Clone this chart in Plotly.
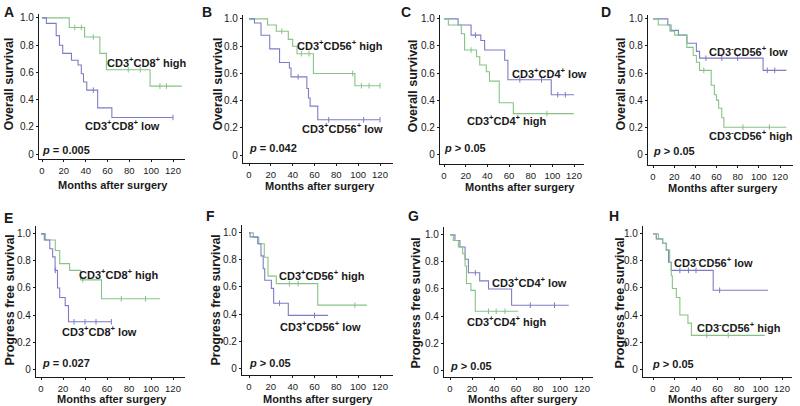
import plotly.graph_objects as go

# ---------------- data (months, survival) ----------------
A_high_t = [0, 25, 39, 53, 59, 99, 128]
A_high_s = [1, 0.93, 0.86, 0.74, 0.62, 0.50, 0.50]
A_high_c = [30, 36, 47, 79, 90, 108, 114]
A_low_t = [0, 4, 13, 16, 19, 27, 33, 36, 38, 41, 51, 64, 120]
A_low_s = [1, 0.96, 0.87, 0.80, 0.74, 0.69, 0.655, 0.59, 0.53, 0.47, 0.34, 0.27, 0.27]
A_low_c = [47, 120]

B_high_t = [0, 17, 25, 36, 40, 44, 59, 97, 120]
B_high_s = [1, 0.955, 0.91, 0.85, 0.80, 0.745, 0.60, 0.51, 0.51]
B_high_c = [30, 48, 55, 95, 103, 110, 120]
B_low_t = [0, 5, 11, 19, 28, 37, 38.5, 53, 54.5, 56, 63, 120]
B_low_s = [1, 0.97, 0.88, 0.78, 0.68, 0.64, 0.575, 0.49, 0.42, 0.36, 0.26, 0.26]
B_low_c = [45, 73, 105, 120]

C_low_t = [0, 13, 25, 34, 37.5, 56, 59, 99, 120]
C_low_s = [1, 0.955, 0.88, 0.84, 0.77, 0.695, 0.55, 0.44, 0.44]
C_low_c = [29, 70, 90, 105, 112]
C_high_t = [0, 4, 16, 19, 30, 33, 39, 42, 51, 64, 120]
C_high_s = [1, 0.955, 0.89, 0.77, 0.72, 0.66, 0.61, 0.54, 0.38, 0.30, 0.30]
C_high_c = [25, 95]

D_low_t = [0, 14, 17, 24, 32, 41, 44, 104, 126]
D_low_s = [1, 0.955, 0.915, 0.88, 0.82, 0.76, 0.71, 0.62, 0.62]
D_low_c = [50, 65, 80, 108, 115]
D_high_t = [0, 5, 16, 20.5, 32, 38, 41, 44, 55, 58, 60, 62, 65, 67, 126]
D_high_s = [1, 0.955, 0.91, 0.88, 0.79, 0.73, 0.68, 0.62, 0.51, 0.44, 0.40, 0.34, 0.27, 0.20, 0.20]
D_high_c = [48, 85, 110]

E_high_t = [0, 4, 13, 17, 26, 36, 55, 108]
E_high_s = [1, 0.955, 0.877, 0.78, 0.73, 0.66, 0.52, 0.52]
E_high_c = [38, 73, 95]
E_low_t = [0, 3, 8, 10.6, 12.8, 15, 17, 22, 25, 64]
E_low_s = [1, 0.955, 0.89, 0.83, 0.73, 0.60, 0.53, 0.47, 0.35, 0.35]
E_low_c = [13, 30, 40, 50, 64]

F_high_t = [0, 4, 9, 14, 17.4, 25, 63, 108]
F_high_s = [1, 0.968, 0.92, 0.82, 0.68, 0.625, 0.466, 0.466]
F_high_c = [37, 45, 97]
F_low_t = [0, 1, 8, 11, 13, 14.4, 20.5, 22.6, 36, 72.5]
F_low_s = [1, 0.97, 0.92, 0.83, 0.735, 0.65, 0.59, 0.48, 0.39, 0.39]
F_low_c = [28, 60]

G_low_t = [0, 4.5, 9, 13.7, 16.7, 27, 35, 56, 108]
G_low_s = [1, 0.958, 0.91, 0.82, 0.72, 0.66, 0.60, 0.48, 0.48]
G_low_c = [23, 73, 95]
G_high_t = [0, 3, 7.6, 11.5, 13.7, 15, 19, 23, 62]
G_high_s = [1, 0.958, 0.91, 0.86, 0.77, 0.64, 0.59, 0.435, 0.435]
G_high_c = [35, 42, 50]

H_low_t = [0, 3, 9, 12.4, 14.5, 17, 56, 107]
H_low_s = [1, 0.963, 0.93, 0.88, 0.79, 0.73, 0.583, 0.583]
H_low_c = [25, 33, 40, 62]
H_high_t = [0, 5, 9, 12.4, 15.5, 17, 18, 21.7, 25, 32.5, 35.7, 104]
H_high_s = [1, 0.963, 0.93, 0.88, 0.79, 0.69, 0.596, 0.53, 0.40, 0.34, 0.25, 0.25]
H_high_c = [50, 70]

x_ticks = [0, 20, 40, 60, 80, 100, 120]
y_ticks = [0, 0.2, 0.4, 0.6, 0.8, 1.0]
y_tick_text = ["0", "0.2", "0.4", "0.6", "0.8", "1.0"]

GREEN = "#86c486"
BLUE = "#7c7cc6"
INK = "#1a1a1a"
FONT = "Liberation Sans, Arial, sans-serif"

W, H = 800, 406

# panel geometry in px: yline_x, x0, x120, xend, y1, y0, xline_y, ytop
geom = {
    "A": (39, 42, 173, 185, 16, 153, 158, 12),
    "B": (243, 249, 380, 393, 17, 154, 162, 13),
    "C": (440, 444, 574, 584, 17, 153, 163, 13),
    "D": (648, 653, 780, 793, 17, 153, 164, 13),
    "E": (36, 41, 173, 185, 233, 369, 377, 225),
    "F": (242, 249, 380, 393, 232, 368, 375, 224),
    "G": (444, 450, 582, 593, 234, 370, 377, 226),
    "H": (643, 653, 782, 792, 233, 369, 377, 225),
}

panels = [
    ("A", [(A_high_t, A_high_s, A_high_c, GREEN), (A_low_t, A_low_s, A_low_c, BLUE)]),
    ("B", [(B_high_t, B_high_s, B_high_c, GREEN), (B_low_t, B_low_s, B_low_c, BLUE)]),
    ("C", [(C_low_t, C_low_s, C_low_c, BLUE), (C_high_t, C_high_s, C_high_c, GREEN)]),
    ("D", [(D_low_t, D_low_s, D_low_c, BLUE), (D_high_t, D_high_s, D_high_c, GREEN)]),
    ("E", [(E_high_t, E_high_s, E_high_c, GREEN), (E_low_t, E_low_s, E_low_c, BLUE)]),
    ("F", [(F_high_t, F_high_s, F_high_c, GREEN), (F_low_t, F_low_s, F_low_c, BLUE)]),
    ("G", [(G_low_t, G_low_s, G_low_c, BLUE), (G_high_t, G_high_s, G_high_c, GREEN)]),
    ("H", [(H_low_t, H_low_s, H_low_c, BLUE), (H_high_t, H_high_s, H_high_c, GREEN)]),
]

# text annotations: (text, x_center_px, y_center_px)
curve_labels = {
    "A": [("CD3<sup>+</sup>CD8<sup>+</sup> high", 147, 60), ("CD3<sup>+</sup>CD8<sup>+</sup> low", 122, 124)],
    "B": [("CD3<sup>+</sup>CD56<sup>+</sup> high", 340, 43), ("CD3<sup>+</sup>CD56<sup>+</sup> low", 342, 127)],
    "C": [("CD3<sup>+</sup>CD4<sup>+</sup> low", 549, 71), ("CD3<sup>+</sup>CD4<sup>+</sup> high", 507, 119)],
    "D": [("CD3<sup>-</sup>CD56<sup>+</sup> low", 748, 49), ("CD3<sup>-</sup>CD56<sup>+</sup> high", 751, 134)],
    "E": [("CD3<sup>+</sup>CD8<sup>+</sup> high", 119, 273), ("CD3<sup>+</sup>CD8<sup>+</sup> low", 99, 331)],
    "F": [("CD3<sup>+</sup>CD56<sup>+</sup> high", 322, 274), ("CD3<sup>+</sup>CD56<sup>+</sup> low", 320, 326)],
    "G": [("CD3<sup>+</sup>CD4<sup>+</sup> low", 529, 281), ("CD3<sup>+</sup>CD4<sup>+</sup> high", 507, 321)],
    "H": [("CD3<sup>-</sup>CD56<sup>+</sup> low", 713, 261), ("CD3<sup>-</sup>CD56<sup>+</sup> high", 739, 327)],
}
pvals = {
    "A": ("= 0.005", 40, 149), "B": ("= 0.042", 247, 147), "C": ("> 0.05", 442, 147),
    "D": ("> 0.05", 651, 150), "E": ("= 0.027", 40, 363), "F": ("> 0.05", 247, 363),
    "G": ("> 0.05", 448, 366), "H": ("> 0.05", 650, 364),
}
letters = {"A": (8, 10), "B": (206, 10), "C": (405, 10), "D": (605, 10),
           "E": (8, 217), "F": (210, 215), "G": (412, 215), "H": (613, 215)}
ytitles = {"A": (9, 83), "B": (218, 83), "C": (413, 85), "D": (621, 83),
           "E": (10, 300), "F": (216, 300), "G": (416, 303), "H": (620, 303)}
xtitles = {"A": (113, 184), "B": (320, 185), "C": (520, 186), "D": (723, 187),
           "E": (112, 399), "F": (318, 399), "G": (523, 399), "H": (723, 399)}


def step_value(t, s, x):
    v = s[0]
    for ti, si in zip(t, s):
        if ti <= x:
            v = si
    return v


fig = go.Figure()
annotations = []

def px(xp):
    return xp / W

def py(yp):
    return 1 - yp / H

for i, (name, curves) in enumerate(panels, start=1):
    ylx, x0, x120, xend, y1, y0, xly, ytop = geom[name]
    xs = (x120 - x0) / 120.0
    ys = (y0 - y1) / 1.0
    xr = [-(x0 - ylx) / xs, 120 + (xend - x120) / xs]
    yr = [-(xly - y0) / ys, 1 + (y1 - ytop) / ys]
    xa = "x" if i == 1 else f"x{i}"
    ya = "y" if i == 1 else f"y{i}"
    for (t, s, c, col) in curves:
        fig.add_trace(go.Scatter(x=t, y=s, mode="lines", line=dict(color=col, width=1.1, shape="hv"),
                                 xaxis=xa, yaxis=ya, showlegend=False, hoverinfo="skip"))
        fig.add_trace(go.Scatter(x=c, y=[step_value(t, s, v) for v in c], mode="markers",
                                 marker=dict(symbol="line-ns-open", size=4, color=col,
                                             line=dict(color=col, width=1)),
                                 xaxis=xa, yaxis=ya, showlegend=False, hoverinfo="skip"))
    axx = dict(domain=[px(ylx), px(xend)], range=xr, anchor=ya, showline=True, linecolor=INK, linewidth=1.4,
               ticks="outside", ticklen=2, tickwidth=1, tickcolor=INK, tickvals=x_ticks,
               showgrid=False, zeroline=False, tickfont=dict(family=FONT, size=9.5, color=INK))
    axy = dict(domain=[py(xly), py(ytop)], range=yr, anchor=xa, showline=True, linecolor=INK, linewidth=1.4,
               ticks="outside", ticklen=2, tickwidth=1, tickcolor=INK, tickvals=y_ticks, ticktext=y_tick_text,
               showgrid=False, zeroline=False, tickfont=dict(family=FONT, size=10, color=INK))
    fig.update_layout({("xaxis" if i == 1 else f"xaxis{i}"): axx, ("yaxis" if i == 1 else f"yaxis{i}"): axy})

    for txt, cx, cy in curve_labels[name]:
        annotations.append(dict(text=txt, x=px(cx), y=py(cy), xref="paper", yref="paper", showarrow=False,
                                xanchor="center", yanchor="middle",
                                font=dict(family=FONT, size=11, color=INK, weight="bold")))
    ptxt, lx, ly = pvals[name]
    annotations.append(dict(text=f"<i>p</i> {ptxt}", x=px(lx), y=py(ly), xref="paper", yref="paper",
                            showarrow=False, xanchor="left", yanchor="middle",
                            font=dict(family=FONT, size=11, color=INK, weight="bold")))
    lx, ly = letters[name]
    annotations.append(dict(text=name, x=px(lx - 6), y=py(ly), xref="paper", yref="paper", showarrow=False,
                            xanchor="left", yanchor="middle",
                            font=dict(family=FONT, size=14, color=INK, weight="bold")))
    tx, ty = ytitles[name]
    annotations.append(dict(text="Overall survival" if name in "ABCD" else "Progress free survival",
                            x=px(tx), y=py(ty), xref="paper", yref="paper", showarrow=False, textangle=-90,
                            xanchor="center", yanchor="middle",
                            font=dict(family=FONT, size=12.5, color=INK, weight="bold")))
    tx, ty = xtitles[name]
    annotations.append(dict(text="Months after surgery", x=px(tx), y=py(ty), xref="paper", yref="paper",
                            showarrow=False, xanchor="center", yanchor="middle",
                            font=dict(family=FONT, size=11, color=INK, weight="bold")))

fig.update_layout(width=W, height=H, margin=dict(l=0, r=0, t=0, b=0), plot_bgcolor="white",
                  paper_bgcolor="white", annotations=annotations)
fig.write_html("out.html", config={"displayModeBar": False},
               post_script="document.body.style.margin='0';document.body.style.padding='0';")
